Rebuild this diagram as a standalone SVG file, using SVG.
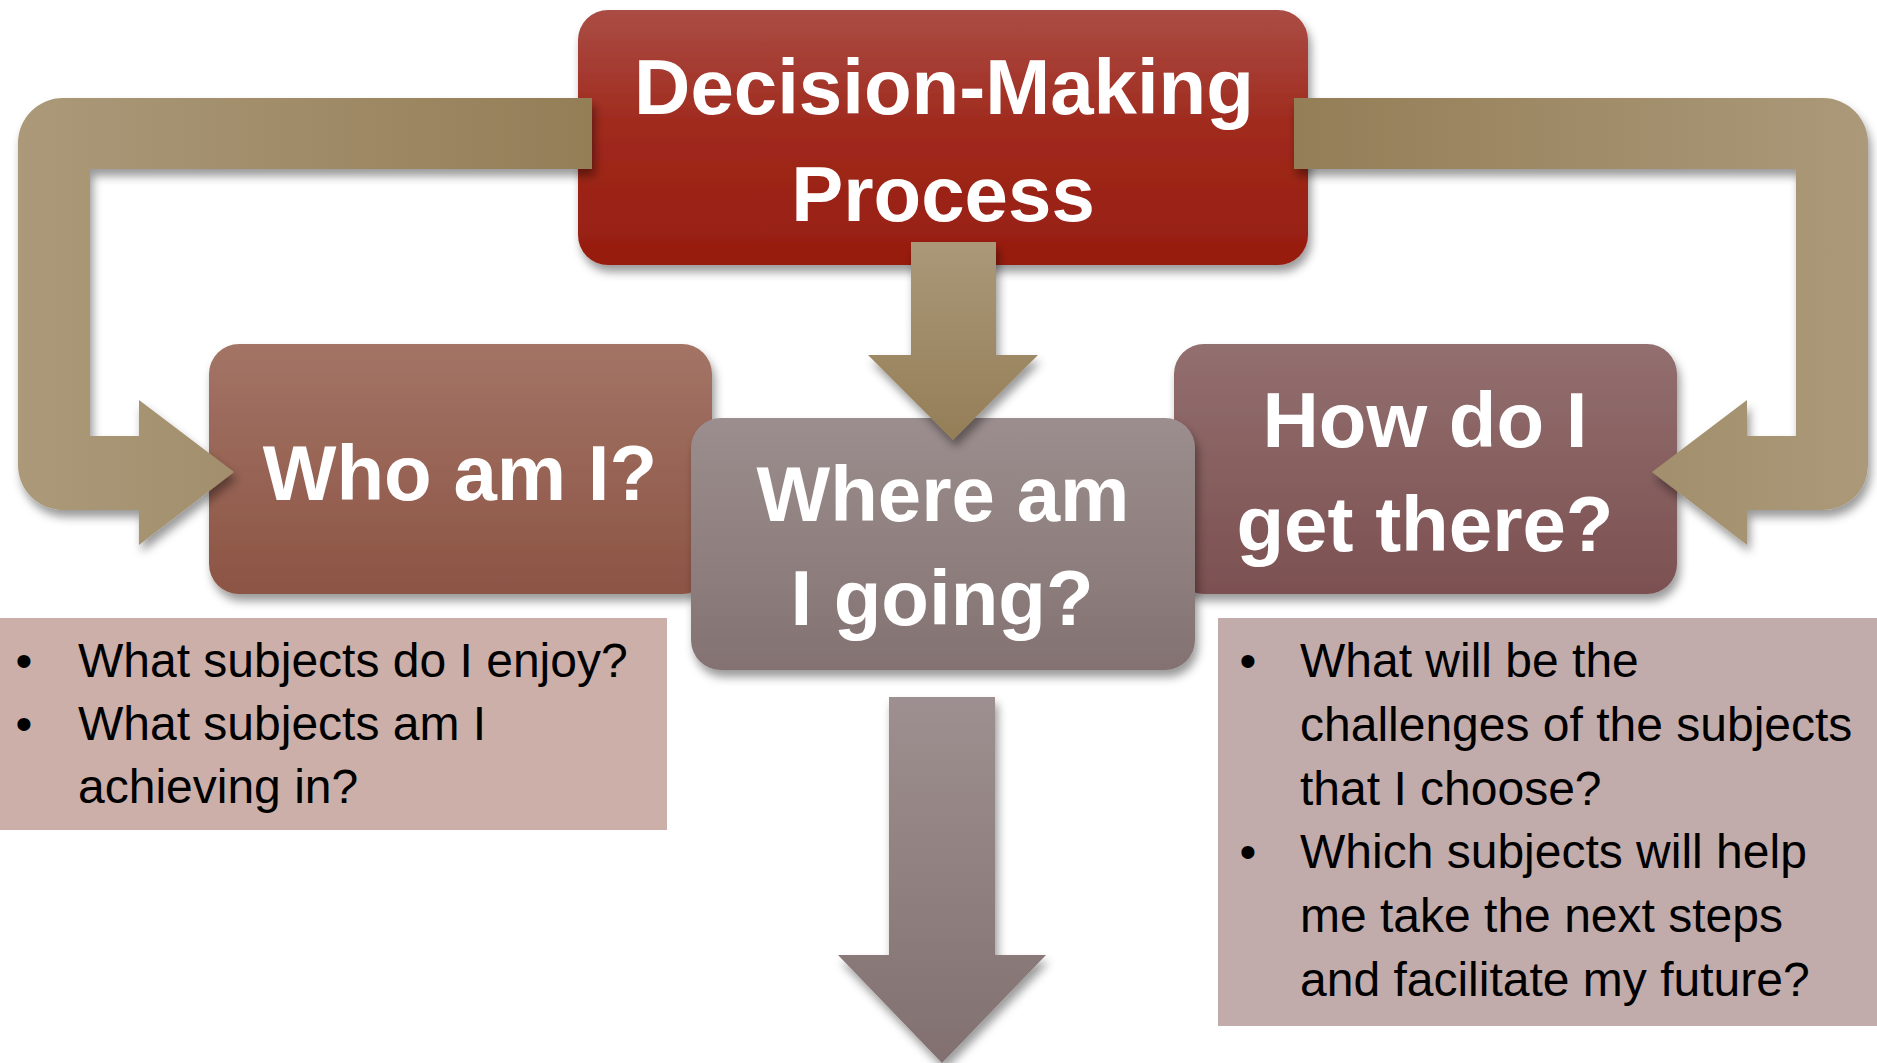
<svg xmlns="http://www.w3.org/2000/svg" width="1877" height="1063" viewBox="0 0 1877 1063">
<style>
.h{font-family:"Liberation Sans",Arial,sans-serif;font-weight:bold;font-size:78px;fill:#ffffff;text-anchor:middle}
.b{font-family:"Liberation Sans",Arial,sans-serif;font-size:48px;fill:#000000}
.bul{text-anchor:middle}
</style>
<defs>
<filter id="sh" x="-10%" y="-10%" width="125%" height="135%">
<feDropShadow dx="3" dy="7" stdDeviation="5" flood-color="#000" flood-opacity="0.4"/>
</filter>
<linearGradient id="gTop" x1="0" y1="0" x2="0" y2="1"><stop offset="0" stop-color="#aa4d45"/><stop offset="0.45" stop-color="#a02a1d"/><stop offset="1" stop-color="#971d0f"/></linearGradient>
<linearGradient id="gWho" x1="0" y1="0" x2="0" y2="1"><stop offset="0" stop-color="#a37466"/><stop offset="1" stop-color="#8c5444"/></linearGradient>
<linearGradient id="gWhere" x1="0" y1="0" x2="0" y2="1"><stop offset="0" stop-color="#9c8e8e"/><stop offset="1" stop-color="#847272"/></linearGradient>
<linearGradient id="gHow" x1="0" y1="0" x2="0" y2="1"><stop offset="0" stop-color="#936f6f"/><stop offset="1" stop-color="#7c5051"/></linearGradient>
<linearGradient id="gL" gradientUnits="userSpaceOnUse" x1="18" y1="0" x2="592" y2="0"><stop offset="0" stop-color="#ab9979"/><stop offset="1" stop-color="#947e57"/></linearGradient>
<linearGradient id="gR" gradientUnits="userSpaceOnUse" x1="1868" y1="0" x2="1294" y2="0"><stop offset="0" stop-color="#ab9979"/><stop offset="1" stop-color="#947e57"/></linearGradient>
<linearGradient id="gD" gradientUnits="userSpaceOnUse" x1="0" y1="242" x2="0" y2="440"><stop offset="0" stop-color="#aa9878"/><stop offset="1" stop-color="#947e57"/></linearGradient>
<linearGradient id="gB" gradientUnits="userSpaceOnUse" x1="0" y1="697" x2="0" y2="1063"><stop offset="0" stop-color="#9e9090"/><stop offset="1" stop-color="#827070"/></linearGradient>
</defs>
<rect width="1877" height="1063" fill="#ffffff"/>

<g id="info-left">
<rect x="0" y="618" width="667" height="212" fill="#cbafa8"/>
<text class="b bul" x="24" y="677">•</text>
<text class="b" x="78" y="677">What subjects do I enjoy?</text>
<text class="b bul" x="24" y="740">•</text>
<text class="b" x="78" y="740">What subjects am I</text>
<text class="b" x="78" y="803">achieving in?</text>
</g>

<g id="info-right">
<rect x="1218" y="618" width="659" height="408" fill="#c2acab"/>
<text class="b bul" x="1248" y="677">•</text>
<text class="b" x="1300" y="677">What will be the</text>
<text class="b" x="1300" y="741">challenges of the subjects</text>
<text class="b" x="1300" y="805">that I choose?</text>
<text class="b bul" x="1248" y="868">•</text>
<text class="b" x="1300" y="868">Which subjects will help</text>
<text class="b" x="1300" y="932">me take the next steps</text>
<text class="b" x="1300" y="996">and facilitate my future?</text>
</g>

<g id="decision-making">
<rect x="578" y="10" width="730" height="255" rx="30" fill="url(#gTop)" filter="url(#sh)"/>
<text class="h" x="944" y="114">Decision-Making</text>
<text class="h" x="943" y="221">Process</text>
</g>

<g id="who-am-i">
<rect x="209" y="344" width="503" height="250" rx="30" fill="url(#gWho)" filter="url(#sh)"/>
<text class="h" x="460" y="500">Who am I?</text>
</g>

<g id="how-do-i">
<rect x="1174" y="344" width="503" height="250" rx="30" fill="url(#gHow)" filter="url(#sh)"/>
<text class="h" x="1425" y="447">How do I</text>
<text class="h" x="1425" y="551">get there?</text>
</g>

<g id="where-am-i">
<rect x="691" y="418" width="504" height="252" rx="30" fill="url(#gWhere)" filter="url(#sh)"/>
<text class="h" x="943" y="521">Where am</text>
<text class="h" x="942" y="625">I going?</text>
</g>

<g id="connectors">
<path d="M592,98 L63,98 A45,45 0 0 0 18,143 L18,465 A45,45 0 0 0 63,510 L139,510 L139,545 L234,472 L139,400 L139,436 L90,436 L90,169 L592,169 Z" fill="url(#gL)" filter="url(#sh)"/>
<path d="M1294,98 L1823,98 A45,45 0 0 1 1868,143 L1868,465 A45,45 0 0 1 1823,510 L1747,510 L1747,545 L1652,472 L1747,400 L1747,436 L1796,436 L1796,169 L1294,169 Z" fill="url(#gR)" filter="url(#sh)"/>
<path d="M911,242 L996,242 L996,355 L1038,355 L953,440 L868,355 L911,355 Z" fill="url(#gD)" filter="url(#sh)"/>
<path d="M889,697 L995,697 L995,955 L1046,955 L942,1063 L838,955 L889,955 Z" fill="url(#gB)" filter="url(#sh)"/>
</g>
</svg>
